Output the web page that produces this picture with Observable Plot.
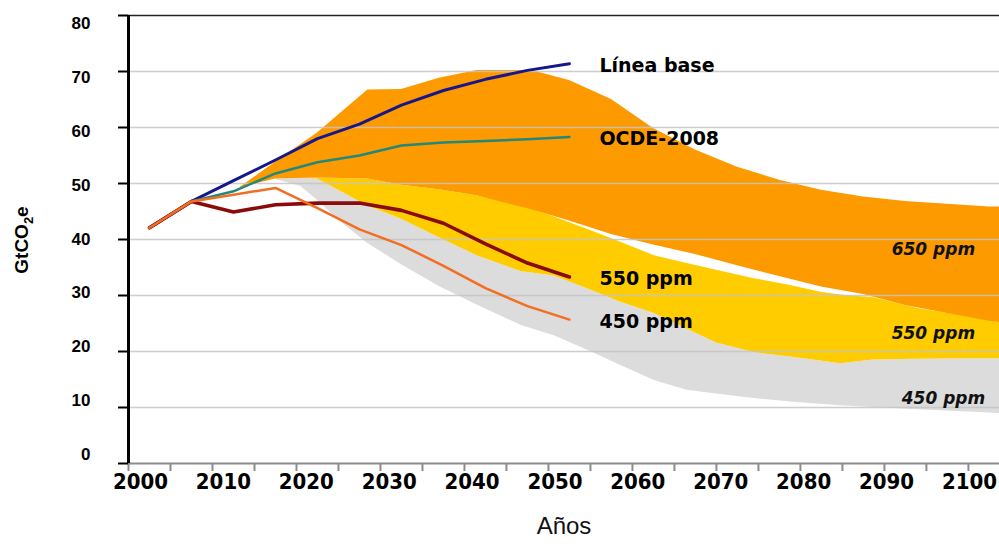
<!DOCTYPE html>
<html>
<head>
<meta charset="utf-8">
<script src="https://cdn.jsdelivr.net/npm/d3@7"></script>
<script src="https://cdn.jsdelivr.net/npm/@observablehq/plot@0.6"></script>
<style>
  body { margin: 0; background: #fff; }
  #chart svg { display: block; }
</style>
</head>
<body>
<div id="chart"></div>
<script>
// ---- Data ----
const lineYears = [2002.5, 2007.5, 2012.5, 2017.5, 2022.5, 2027.5, 2032.5, 2037.5, 2042.5, 2047.5, 2052.5];
const lineaBase = [42.1, 46.8, 50.5, 54.2, 58.0, 60.6, 64.0, 66.6, 68.6, 70.2, 71.4];
const ocde2008  = [42.1, 46.8, 48.6, 51.8, 53.8, 55.0, 56.8, 57.3, 57.6, 57.9, 58.3];
const ppm550    = [42.1, 46.8, 44.9, 46.2, 46.5, 46.5, 45.2, 42.9, 39.2, 35.8, 33.3];
const ppm450    = [42.1, 46.8, 48.0, 49.2, 45.6, 41.8, 39.0, 35.3, 31.3, 28.1, 25.7];

const band650Years = [2013.2, 2017.5, 2022.5, 2028.5, 2032.5, 2037, 2041.5, 2048, 2052.5, 2057.5, 2062.5, 2067.5, 2072.5, 2077.5, 2082.5, 2087.5, 2092.5, 2097.5, 2102.5, 2104];
const band650Upper = [49.2, 53.8, 59.0, 66.7, 66.8, 68.8, 70.2, 70.2, 68.4, 65.0, 59.8, 56.0, 52.9, 50.6, 48.8, 47.6, 46.8, 46.3, 45.8, 45.8];
const band650Lower = [49.2, 50.8, 51.0, 50.8, 49.7, 48.9, 47.8, 45.3, 43.3, 40.9, 39.0, 37.3, 35.3, 33.4, 31.5, 30.2, 28.2, 26.8, 25.4, 25.1];

const band550Years = [2020.5, 2022.5, 2028.5, 2032.5, 2037, 2041.5, 2046.7, 2050.7, 2055, 2058.6, 2062.6, 2066.5, 2070, 2074.5, 2078.8, 2082.4, 2084.8, 2088.7, 2094, 2100, 2104];
const band550Upper = [50.9, 51.0, 50.8, 49.7, 48.9, 47.8, 46.1, 44.0, 41.6, 39.5, 37.1, 35.7, 34.5, 33.0, 31.8, 30.6, 30.1, 29.6, 27.7, 26.2, 25.1];
const band550Lower = [50.9, 50.8, 46.0, 43.6, 40.3, 37.1, 34.3, 33.5, 31.0, 28.8, 26.8, 24.0, 21.5, 19.8, 19.0, 18.3, 17.8, 18.5, 18.6, 18.7, 18.7];

const band450Years = [2017.3, 2020.5, 2022.5, 2025, 2028.5, 2032.5, 2037, 2041.5, 2046.7, 2050.7, 2055, 2058.6, 2062.6, 2066.5, 2070, 2074.5, 2078.8, 2082.4, 2084.8, 2088.7, 2094, 2100, 2104];
const band450Upper = [50.8, 50.9, 50.8, 48.8, 46.0, 43.6, 40.3, 37.1, 34.3, 33.5, 31.0, 28.8, 26.8, 24.0, 21.5, 19.8, 19.0, 18.3, 17.8, 18.5, 18.6, 18.7, 18.7];
const band450Lower = [50.8, 49.5, 47.0, 43.5, 39.3, 35.5, 31.6, 28.3, 24.7, 22.8, 20.0, 17.5, 14.8, 13.1, 12.4, 11.6, 11.0, 10.6, 10.3, 10.0, 9.6, 9.2, 8.9];

const bandLabels = [
  {label: "650 ppm", year: 2100.8, value: 38.2},
  {label: "550 ppm", year: 2100.8, value: 23.2},
  {label: "450 ppm", year: 2102.0, value: 11.6}
];

const yTicks = [0, 10, 20, 30, 40, 50, 60, 70, 80];
const gridValues = [10, 20, 30, 40, 50, 60, 70];
const xTicks = [2000, 2010, 2020, 2030, 2040, 2050, 2060, 2070, 2080, 2090, 2100];
const xMinorTicks = d3.range(2000, 2101, 5);

const seriesDefs = [
  {name: "Línea base", values: lineaBase, color: "#17178c", width: 3},
  {name: "OCDE-2008",  values: ocde2008,  color: "#23877a", width: 2.5},
  {name: "550 ppm",    values: ppm550,    color: "#8a0b0b", width: 3.6},
  {name: "450 ppm",    values: ppm450,    color: "#f26e22", width: 2.5}
];

// ---- Tables ----
const band = (years, up, lo) => years.map((y, i) => ({year: y, hi: up[i], lo: lo[i]}));
const b650 = band(band650Years, band650Upper, band650Lower);
const b550 = band(band550Years, band550Upper, band550Lower);
const b450 = band(band450Years, band450Upper, band450Lower);
const rows = s => lineYears.map((y, i) => ({year: y, value: s.values[i]}));

const boldFont = "'DejaVu Sans', Verdana, sans-serif";
const axisFont = "'Liberation Sans', Arial, sans-serif";

// the original tick labels sit slightly off their ticks (compressed spread)
const yLabelShift = v => 8 - (80 - v) * 0.21;
const xLabelShift = yr => 12 - (yr - 2000) * 0.11;

const marks = [
  Plot.areaY(b450, {x: "year", y1: "lo", y2: "hi", fill: "#dcdcdc", clip: true}),
  Plot.areaY(b550, {x: "year", y1: "lo", y2: "hi", fill: "#ffcc00", clip: true}),
  Plot.areaY(b650, {x: "year", y1: "lo", y2: "hi", fill: "#fd9a00", clip: true}),
  Plot.ruleY(gridValues, {stroke: "#c4c4c4", strokeWidth: 1.5, strokeOpacity: 0.85}),
  Plot.ruleY([80], {stroke: "#222", strokeWidth: 1.5}),
  Plot.ruleY([0], {stroke: "#8c8c8c", strokeWidth: 2}),
  Plot.axisX(xMinorTicks, {tickSize: 8, tickFormat: () => "", stroke: "#8c8c8c", strokeWidth: 2, label: null}),
  ...xTicks.map(yr => Plot.axisX([yr], {tickSize: 0, tickPadding: 10, dx: xLabelShift(yr), tickFormat: d3.format("d"), fontSize: 22, fontWeight: "bold", fontFamily: "'Liberation Sans Narrow', 'DejaVu Sans Condensed', 'Liberation Sans', sans-serif", fill: "#000", label: null})),
  Plot.ruleX([2000], {y1: 0, y2: 80, stroke: "#000", strokeWidth: 3}),
  Plot.axisY(yTicks, {tickSize: 10, strokeWidth: 2, stroke: "#000", tickFormat: () => "", label: null}),
  ...yTicks.map(v => Plot.axisY([v], {tickSize: 10, tickPadding: 28, dy: yLabelShift(v), stroke: null, fontSize: 17, fontWeight: "bold", fontFamily: axisFont, fill: "#000", label: null})),
  Plot.text(bandLabels, {x: "year", y: "value", text: "label", textAnchor: "end", fontStyle: "italic", fontWeight: "bold", fontSize: 17, fontFamily: boldFont, fill: "#111", letterSpacing: "1.5px"}),
  Plot.text(["Años"], {frameAnchor: "bottom", dy: 70, fontSize: 24, fontFamily: axisFont, fill: "#111"})
];

for (const s of seriesDefs) {
  marks.push(Plot.line(rows(s), {x: "year", y: "value", stroke: s.color, strokeWidth: s.width, curve: "linear"}));
}
for (const s of seriesDefs) {
  marks.push(Plot.text(rows(s), Plot.selectLast({x: "year", y: "value", text: () => s.name, dx: 30, dy: 2, textAnchor: "start", fontWeight: "bold", fontSize: 19, fontFamily: boldFont, fill: "#000", letterSpacing: "2.5px"})));
}

const chart = Plot.plot({
  width: 999,
  height: 546,
  marginLeft: 128,
  marginRight: 0,
  marginTop: 15,
  marginBottom: 83,
  x: {domain: [2000, 2103.7], label: null},
  y: {domain: [0, 80], label: null},
  style: {background: "#fff", overflow: "visible", fontFamily: axisFont},
  marks
});

// y-axis title with subscript
const svg = d3.select(chart);
const t = svg.append("text")
  .attr("transform", "translate(28,240) rotate(-90)")
  .attr("text-anchor", "middle")
  .attr("font-family", axisFont)
  .attr("font-weight", "bold")
  .attr("font-size", 19)
  .attr("fill", "#000");
t.append("tspan").text("GtCO");
t.append("tspan").attr("font-size", 13).attr("dy", 5).text("2");
t.append("tspan").attr("dy", -5).text("e");

document.getElementById("chart").appendChild(chart);
</script>
</body>
</html>
